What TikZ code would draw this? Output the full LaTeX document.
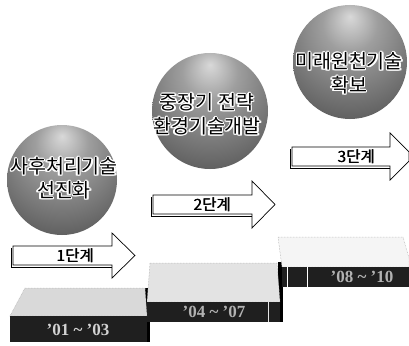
\documentclass[tikz,border=0pt]{standalone}
\usepackage{fontspec}
\setmainfont{Liberation Sans}
\newfontfamily\kr{Noto Sans CJK KR}
\newfontfamily\yr{Liberation Serif}
\usepackage{contour}
\contourlength{1.2pt}
\contournumber{10}
\newcommand\pbold[1]{\rlap{\kern0.5pt#1}#1}
\newcommand\orbline[1]{\contour{white}{#1}}
\pgfdeclareradialshading{orb}{\pgfpoint{0bp}{20bp}}{color(0bp)=(black!15); color(12bp)=(black!38); color(35bp)=(black!62); color(55bp)=(black!85); color(70bp)=(black)}
\tikzset{
  orbnode/.style={circle, shading=orb, inner sep=0pt, minimum size=#1},
  orbtext/.style={align=center, inner sep=0pt, font=\kr\fontsize{19.5}{24}\selectfont},
  arrowshape/.style={draw=black, fill=white, line width=0.7pt, line join=miter},
  arrowtext/.style={inner sep=0pt, font=\kr\fontsize{15.5}{15.5}\selectfont},
  topface/.style={fill=#1, draw=gray!70, line width=0.5pt, densely dotted},
  frontface/.style={fill=black!88},
  yeartext/.style={inner sep=0pt, text=gray!60, font=\yr\bfseries\fontsize{17}{17}\selectfont}
}
\begin{document}
\begin{tikzpicture}[x=1pt,y=-1pt]
\useasboundingbox (0,0) rectangle (409,345);
\fill[white] (0,0) rectangle (409,345);

% ---- steps ----
% step 3
\fill[black] (278,262) rectangle (283,322);
\draw[topface=gray!8] (278,237) -- (403,237) -- (409,258) -- (409,267) -- (282,267) -- cycle;
\fill[frontface] (282,267) rectangle (409,287);
\draw[white, line width=0.8pt] (287,267) -- (287,287) (307,267) -- (307,287);
\node[yeartext] (d3) at (362,277) {’08 \textasciitilde{} ’10};
% step 2
\fill[black] (145,288) rectangle (150,342);
\draw[topface=gray!22] (150,263) -- (277,263) -- (280,302) -- (147,302) -- cycle;
\fill[frontface] (147,302) rectangle (280,322);
\draw[white!80!gray, line width=0.8pt] (268,302) -- (268,322);
\node[yeartext] (d2) at (214,312) {’04 \textasciitilde{} ’07};
% step 1
\draw[topface=gray!30] (25,288) -- (145,288) -- (147,316) -- (10,316) -- cycle;
\fill[frontface] (10,316) rectangle (147,342);
\node[yeartext, text=gray!35] (d1) at (78,330) {’01 \textasciitilde{} ’03};

% ---- arrows ----
\draw[line width=0.7pt] (11,248) -- (11,267) -- (112,267);
\draw[arrowshape] (13,246) -- (112,246) -- (112,233) -- (135,255.5) -- (112,278) -- (112,265) -- (13,265) -- cycle;
\node[arrowtext] (a1) at (75,256) {\pbold{1단계}};

\draw[line width=0.7pt] (151,197) -- (151,216) -- (252,216);
\draw[arrowshape] (153,195) -- (252,195) -- (252,181) -- (275,204.5) -- (252,228) -- (252,214) -- (153,214) -- cycle;
\node[arrowtext] (a2) at (212,205) {\pbold{2단계}};

\draw[line width=0.7pt] (290,149) -- (290,168) -- (390,168);
\draw[arrowshape] (292,147) -- (390,147) -- (390,133) -- (409,152) -- (409,161) -- (390,180) -- (390,166) -- (292,166) -- cycle;
\node[arrowtext] (a3) at (356,157) {\pbold{3단계}};

% ---- spheres ----
\node[orbnode=110pt] (s1) at (62,180) {};
\node[orbtext] (t1) at (64,179) {\orbline{사후처리기술}\\\orbline{선진화}};

\node[orbnode=116pt] (s2) at (210,111) {};
\node[orbtext] (t2) at (207,115) {\orbline{중장기 전략}\\\orbline{환경기술개발}};

\node[orbnode=114pt] (s3) at (350,62) {};
\node[orbtext] (t3) at (349,74) {\orbline{미래원천기술}\\\orbline{확보}};
\end{tikzpicture}
\end{document}
